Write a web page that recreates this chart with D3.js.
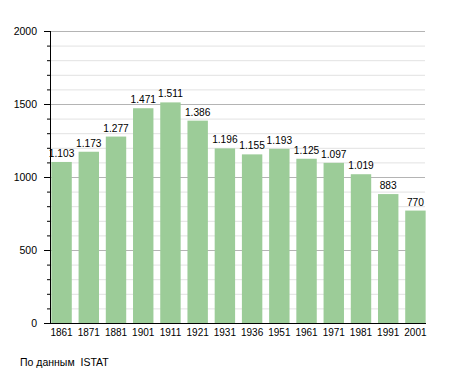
<!DOCTYPE html>
<html>
<head>
<meta charset="utf-8">
<script src="https://cdn.jsdelivr.net/npm/d3@7"></script>
<style>
  body { margin: 0; background: #fff; }
  text { font-family: "Liberation Sans", Arial, sans-serif; fill: #000; }
</style>
</head>
<body>
<div id="chart"></div>
<script>
// census years and population
const years = ["1861", "1871", "1881", "1901", "1911", "1921", "1931", "1936", "1951", "1961", "1971", "1981", "1991", "2001"];
const population = [1103, 1173, 1277, 1471, 1511, 1386, 1196, 1155, 1193, 1125, 1097, 1019, 883, 770];
const majorTicks = [0, 500, 1000, 1500, 2000];
const minorTicks = d3.range(0, 2001, 100);
const source = "По данным  ISTAT";

const width = 455, height = 373;
const svg = d3.select("#chart").append("svg")
  .attr("width", width)
  .attr("height", height);

const x = d3.scaleBand()
  .domain(years)
  .range([50, 427])
  .paddingInner(0.25)
  .paddingOuter(0.05);

const y = d3.scaleLinear()
  .domain([0, 2000])
  .range([323, 31]);

const fmt = d3.formatLocale({ decimal: ",", thousands: ".", grouping: [3], currency: ["", "€"] }).format(",d");

// grid lines
svg.append("g").selectAll("line")
  .data(minorTicks)
  .join("line")
  .attr("x1", 50).attr("x2", 425)
  .attr("y1", d => y(d) + 0.5).attr("y2", d => y(d) + 0.5)
  .attr("stroke", d => d % 500 === 0 ? "#b4b4b4" : "#e2e2e2")
  .attr("stroke-width", 1);

// bars
svg.append("g").selectAll("rect")
  .data(population)
  .join("rect")
  .attr("x", (d, i) => x(years[i]))
  .attr("y", d => y(d))
  .attr("width", x.bandwidth())
  .attr("height", d => y(0) - y(d))
  .attr("fill", "#9ccc98");

// value labels
svg.append("g").selectAll("text")
  .data(population)
  .join("text")
  .attr("x", (d, i) => x(years[i]) + x.bandwidth() / 2)
  .attr("y", d => y(d) - 5)
  .attr("text-anchor", "middle")
  .attr("font-size", 10.2)
  .text(d => fmt(d));

// y axis
const yAxis = svg.append("g");
yAxis.append("line")
  .attr("x1", 50.5).attr("x2", 50.5)
  .attr("y1", y(2000)).attr("y2", y(0))
  .attr("stroke", "#000");
yAxis.selectAll(".tick")
  .data(minorTicks)
  .join("line")
  .attr("x1", d => d % 500 === 0 ? 44 : 47).attr("x2", 50)
  .attr("y1", d => y(d) + 0.5).attr("y2", d => y(d) + 0.5)
  .attr("stroke", "#000");
yAxis.selectAll("text")
  .data(majorTicks)
  .join("text")
  .attr("x", 37)
  .attr("y", d => y(d) + 4)
  .attr("text-anchor", "end")
  .attr("font-size", 10.5)
  .text(d => d);

// x axis
svg.append("line")
  .attr("x1", 45).attr("x2", 426)
  .attr("y1", y(0) + 0.5).attr("y2", y(0) + 0.5)
  .attr("stroke", "#000");
svg.append("g").selectAll("text")
  .data(years)
  .join("text")
  .attr("x", d => x(d) + x.bandwidth() / 2)
  .attr("y", 336)
  .attr("text-anchor", "middle")
  .attr("font-size", 10)
  .text(d => d);

svg.append("text")
  .attr("x", 20)
  .attr("y", 366)
  .attr("font-size", 10.5)
  .attr("xml:space", "preserve")
  .style("white-space", "pre")
  .text(source);
</script>
</body>
</html>
